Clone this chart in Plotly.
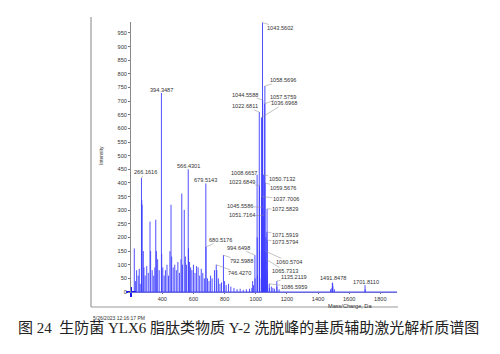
import plotly.graph_objects as go

# ---------------- data ----------------
# peak list (m/z, intensity)
peak_mz = [
    220, 227, 235, 245, 252, 258, 266.16, 268, 270, 278, 282, 290, 300, 310, 321, 325, 335, 345, 352,
    358, 362, 370, 380, 394.35, 396, 403, 412, 420, 430, 440, 449, 456, 460, 470, 480, 490, 500, 510,
    520, 525, 530, 541, 548, 555, 566.43, 568, 575, 582, 590, 600, 610, 620, 630, 640, 650, 660, 670,
    679.51, 680.52, 690, 700, 710, 720, 735, 746.43, 750, 760, 770, 780, 792.60, 800, 810, 825, 840,
    860, 880, 900, 920, 940, 960, 975, 980, 985, 994.65, 995.6,
    1008.67, 1009.67, 1010.7, 1022.68, 1023.68, 1024.68, 1025.7, 1036.70, 1037.70, 1038.7,
    1043.56, 1044.56, 1045.56, 1046.56, 1047.5, 1050.71, 1051.72, 1052.7, 1057.58, 1058.57,
    1059.57, 1060.57, 1061.6, 1064.7, 1065.73, 1066.7, 1071.59, 1072.58, 1073.58, 1074.6,
    1086.60, 1087.6, 1100, 1110, 1120, 1135.21, 1136.2, 1150, 1480, 1489, 1491.85, 1493.8, 1495,
    1505, 1701.81, 1703,
]
peak_int = [
    160, 40, 80, 60, 85, 30, 418, 337, 320, 150, 90, 60, 95, 70, 258, 150, 80, 60, 90,
    265, 150, 120, 80, 730, 140, 90, 60, 80, 100, 60, 150, 320, 130, 90, 100, 80, 110, 70,
    120, 361, 100, 301, 130, 100, 450, 160, 110, 90, 80, 100, 70, 95, 90, 60, 85, 70, 50,
    398, 165, 50, 40, 60, 50, 80, 100, 80, 50, 30, 35, 135, 40, 25, 30, 20,
    15, 10, 12, 8, 10, 12, 15, 40, 25, 135, 50,
    430, 200, 60, 660, 390, 150, 50, 640, 350, 130,
    988, 704, 310, 110, 40, 430, 280, 110, 690, 755,
    400, 150, 60, 200, 120, 50, 220, 305, 190, 80,
    30, 15, 20, 15, 12, 40, 20, 10, 10, 15, 33, 32, 22,
    10, 25, 10,
]

# labelled peaks: text, intensity, text-centre offset (px) from peak top
label_text = ["1043.5602", "1058.5696", "1044.5588", "1057.5759", "1022.6811", "1036.6968",
              "394.3487", "266.1616", "566.4301", "679.5143", "680.5176", "994.6498",
              "792.5988", "746.4270", "1008.6657", "1023.6849", "1050.7132", "1059.5676",
              "1037.7006", "1045.5586", "1072.5829", "1051.7164", "1071.5919", "1073.5794",
              "1060.5704", "1065.7313", "1135.2119", "1086.5959", "1491.8478", "1701.8110"]
label_int = [988, 755, 704, 690, 660, 640, 730, 418, 450, 398, 165, 135, 135, 100, 430, 390,
             430, 400, 350, 310, 305, 280, 220, 190, 150, 120, 40, 30, 33, 25]
label_dx = [17.4, 18, -17.3, 18.3, -14, 22.9, -0.2, 3.6, 0, -0.5, 15, -16.2, 17.6, 23.6, -13.4,
            -17.7, 18.1, 18, 24.3, -22.9, 18, -22.1, 18.1, 17.8, 23.9, 19.1, 17.3, 24.8, 0.7, 1.4]
label_dy = [5.5, -5.7, -5.3, -7, -5.6, -14, -3.1, -5.6, -3.2, -3.4, -7, -7.4, 5.9, 8.7, -1.9,
            -3.2, 4.4, 4.9, 2.8, -1.7, 0.6, -0.5, 3.1, 1.6, 10.7, 11.5, -3.7, 3, -4.6, -3.4]

y_ticks = list(range(0, 951, 50))
x_ticks = [400, 600, 800, 1000, 1200, 1400, 1600, 1800]
x_range = [199, 1907]
y_range = [0, 990]

caption = "图 24  生防菌 YLX6 脂肽类物质 Y-2 洗脱峰的基质辅助激光解析质谱图"
timestamp = "5/26/2023 12:16:17 PM"

# ---------------- layout geometry ----------------
W, H = 500, 354
L, R, T, B = 131, 103, 22, 62
PW, PH = W - L - R, H - T - B


def px_x(px):
    return (px - L) / PW


def px_y(py):
    return (H - B - py) / PH


# build stick spectrum
xs, ys = [], []
for m, i in zip(peak_mz, peak_int):
    xs += [m, m, None]
    ys += [0, i, None]
# baseline
xs += [x_range[0], x_range[1], None]
ys += [0, 0, None]

fig = go.Figure()
fig.add_trace(go.Scatter(x=xs, y=ys, mode="lines",
                         line=dict(color="#3c3cff", width=0.9),
                         hoverinfo="skip", showlegend=False))
# origin cursor
fig.add_trace(go.Scatter(x=[x_range[0]], y=[y_range[0]], mode="markers",
                         marker=dict(symbol="cross-thin", size=7,
                                     line=dict(color="#1a1aee", width=2)),
                         cliponaxis=False, showlegend=False, hoverinfo="skip"))

lab_font = dict(family="Liberation Sans, Arial", size=5.6, color="#333")
annotations = []
for t, i, dx, dy in zip(label_text, label_int, label_dx, label_dy):
    m = float(t)
    annotations.append(dict(x=m, y=i, xref="x", yref="y", text=t, showarrow=True,
                            arrowhead=0, arrowwidth=0.5, arrowcolor="#888",
                            ax=dx, ay=dy, xanchor="center", yanchor="middle",
                            font=lab_font, borderpad=0))

annotations += [
    dict(x=px_x(96), y=px_y(156), xref="paper", yref="paper", text="Intensity",
         textangle=-90, showarrow=False, font=dict(family="Liberation Sans, Arial", size=5, color="#333")),
    dict(x=px_x(350), y=px_y(301.5), xref="paper", yref="paper", text="Mass/Charge, Da",
         xanchor="center", yanchor="top", borderpad=0,
         showarrow=False, font=dict(family="Liberation Sans, Arial", size=5.6, color="#333")),
    dict(x=px_x(91), y=px_y(323), xref="paper", yref="paper", text=timestamp, xanchor="left",
         showarrow=False, font=dict(family="Liberation Sans, Arial", size=5, color="#333")),
    dict(x=px_x(248), y=px_y(338), xref="paper", yref="paper", text=caption,
         showarrow=False,
         font=dict(family="Liberation Serif, Times New Roman, Noto Sans CJK SC", size=15, color="#222")),
]

shapes = [
    dict(type="line", xref="paper", yref="paper", x0=px_x(91), x1=px_x(91), y0=px_y(17), y1=px_y(307),
         line=dict(color="#999", width=1.2)),
    dict(type="line", xref="paper", yref="paper", x0=px_x(91), x1=px_x(398), y0=px_y(307), y1=px_y(307),
         line=dict(color="#999", width=1.2)),
]

fig.update_layout(
    width=W, height=H, margin=dict(l=L, r=R, t=T, b=B),
    paper_bgcolor="white", plot_bgcolor="white",
    annotations=annotations, shapes=shapes,
    xaxis=dict(range=x_range, tickvals=x_ticks, showgrid=False, zeroline=False,
               showline=True, linecolor="#6a6ad8", linewidth=1, ticks="outside", ticklen=1,
               tickcolor="#777", tickfont=dict(family="Liberation Sans, Arial", size=5.6, color="#333")),
    yaxis=dict(range=y_range, tickvals=y_ticks, showgrid=False, zeroline=False,
               showline=True, linecolor="#888", linewidth=1, ticks="outside", ticklen=2,
               tickcolor="#777", tickfont=dict(family="Liberation Sans, Arial", size=5.6, color="#333")),
)

fig.write_html("out.html")
